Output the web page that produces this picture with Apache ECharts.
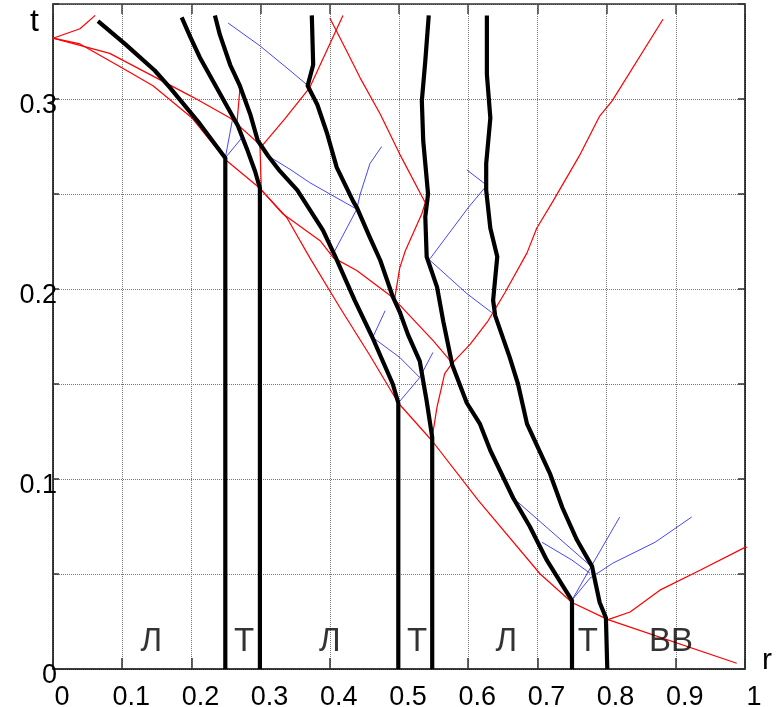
<!DOCTYPE html>
<html><head><meta charset="utf-8">
<script src="https://cdn.jsdelivr.net/npm/echarts@6/dist/echarts.min.js"></script>
<style>html,body{margin:0;padding:0;background:#fff}#c{width:783px;height:707px}</style>
</head><body><div id="c"></div>
<script>
// ---- particle paths (thick black) : [r, t]
const pathA = [[0.065,0.341],[0.104,0.329],[0.147,0.315],[0.169,0.306],[0.212,0.287],[0.249,0.269],[0.249,0]];
const pathB = [[0.186,0.343],[0.198,0.333],[0.212,0.322],[0.241,0.303],[0.267,0.286],[0.280,0.274],[0.292,0.262],[0.299,0.253],[0.299,0]];
const pathC = [[0.234,0.344],[0.241,0.334],[0.256,0.318],[0.270,0.307],[0.285,0.292],[0.296,0.278],[0.311,0.270],[0.328,0.262],[0.353,0.252],[0.390,0.231],[0.408,0.217],[0.436,0.194],[0.461,0.175],[0.491,0.150],[0.499,0.140],[0.499,0]];
const pathD = [[0.374,0.344],[0.376,0.318],[0.368,0.307],[0.382,0.297],[0.396,0.282],[0.410,0.264],[0.434,0.246],[0.439,0.243],[0.458,0.227],[0.473,0.215],[0.491,0.196],[0.501,0.188],[0.513,0.176],[0.530,0.162],[0.540,0.141],[0.548,0.122],[0.548,0]];
const pathE = [[0.543,0.344],[0.538,0.320],[0.533,0.299],[0.535,0.278],[0.542,0.250],[0.538,0.238],[0.540,0.217],[0.555,0.201],[0.564,0.183],[0.577,0.160],[0.598,0.140],[0.617,0.129],[0.632,0.115],[0.665,0.090],[0.689,0.075],[0.714,0.057],[0.750,0.036],[0.750,0]];
const pathF = [[0.627,0.344],[0.627,0.313],[0.632,0.290],[0.626,0.266],[0.626,0.252],[0.632,0.232],[0.642,0.217],[0.636,0.194],[0.639,0.186],[0.660,0.164],[0.672,0.150],[0.685,0.129],[0.704,0.114],[0.718,0.103],[0.736,0.085],[0.757,0.068],[0.779,0.054],[0.783,0.047],[0.790,0.035],[0.799,0.027],[0.801,0]];

// ---- shock lines (thin red)
const shock1 = [[0,0.332],[0.039,0.337],[0.061,0.344]];
const shock2 = [[0,0.332],[0.082,0.324],[0.150,0.311],[0.202,0.301],[0.256,0.290],[0.299,0.276],[0.301,0.253]];
const shock2b = [[0.266,0.288],[0.270,0.305]];
const shock3 = [[0,0.332],[0.039,0.329],[0.097,0.317],[0.1445,0.307],[0.201,0.290],[0.251,0.2675],[0.299,0.253],[0.338,0.2375],[0.371,0.2165],[0.415,0.190],[0.458,0.165],[0.499,0.140],[0.548,0.120],[0.614,0.089],[0.704,0.050],[0.750,0.035],[0.802,0.026],[0.988,0.003]];
const shock4 = [[0.299,0.274],[0.335,0.2895],[0.371,0.306],[0.419,0.344]];
const shock5 = [[0.400,0.3426],[0.422,0.327],[0.444,0.311],[0.473,0.292],[0.501,0.271],[0.538,0.2454],[0.533,0.2396],[0.509,0.220],[0.501,0.211],[0.494,0.1955]];
const shock6 = [[0.299,0.253],[0.332,0.2396],[0.386,0.2254],[0.405,0.2165],[0.439,0.2097],[0.491,0.1955],[0.549,0.173],[0.577,0.161]];
const shock7 = [[0.548,0.122],[0.555,0.138],[0.566,0.1555],[0.577,0.161]];
const shock8 = [[0.577,0.161],[0.603,0.171],[0.629,0.1834],[0.653,0.198],[0.685,0.219],[0.699,0.232],[0.723,0.2465],[0.762,0.271],[0.790,0.291],[0.808,0.299],[0.8815,0.342]];
const shock9 = [[0.802,0.026],[0.834,0.030],[0.877,0.0415],[0.935,0.052],[1.0,0.064],[1.04,0.065]];

// ---- rarefaction characteristics (thin blue)
const wave1 = [[0.253,0.340],[0.299,0.328],[0.3425,0.315],[0.3685,0.307]];
const wave2 = [[0.249,0.269],[0.259,0.2885]];
const wave3 = [[0.249,0.269],[0.273,0.2796]];
const wave4 = [[0.311,0.270],[0.3425,0.263],[0.371,0.256],[0.400,0.250],[0.439,0.242]];
const wave5 = [[0.439,0.242],[0.444,0.250],[0.458,0.266],[0.475,0.275]];
const wave6 = [[0.439,0.242],[0.405,0.2186]];
const wave7 = [[0.462,0.1745],[0.480,0.1886]];
const wave8 = [[0.462,0.1745],[0.501,0.164],[0.530,0.1534]];
const wave9 = [[0.530,0.1534],[0.549,0.1666]];
const wave10 = [[0.530,0.1534],[0.499,0.140]];
const wave11 = [[0.598,0.2627],[0.624,0.2554]];
const wave12 = [[0.624,0.2533],[0.600,0.2428],[0.545,0.216]];
const wave13 = [[0.545,0.215],[0.598,0.1976],[0.634,0.1876]];
const wave14 = [[0.665,0.090],[0.779,0.0536]];
const wave15 = [[0.7066,0.0667],[0.750,0.0573],[0.776,0.0504]];
const wave16 = [[0.750,0.0363],[0.783,0.0573],[0.819,0.080]];
const wave17 = [[0.750,0.0363],[0.776,0.0478],[0.809,0.0557],[0.870,0.0667],[0.923,0.080]];

// ---- zone labels
const zoneNames = ['Л','Т','Л','Т','Л','Т','ВВ'];
const zoneR = [0.142,0.276,0.400,0.526,0.655,0.773,0.893];
const zoneT = [0.0142,0.0142,0.0142,0.0142,0.0142,0.0142,0.0142];

// ---- axes
const xMin = 0, xMax = 1, xStep = 0.1;
const yMin = 0, yMax = 0.35, yStep = 0.05;
const yLabelValues = [0, 0.1, 0.2, 0.3];

const FONT = 'Liberation Sans';
const shocks = [shock1, shock2, shock2b, shock3, shock4, shock5, shock6, shock7, shock8, shock9];
const waves = [wave1, wave2, wave3, wave4, wave5, wave6, wave7, wave8, wave9, wave10, wave11, wave12, wave13, wave14, wave15, wave16, wave17];
const paths = [pathA, pathB, pathC, pathD, pathE, pathF];

const series = [];
waves.forEach(d => series.push({type:'line', data:d, showSymbol:false, silent:true, animation:false,
  lineStyle:{color:'#4646ff', width:1}, z:3}));
shocks.forEach(d => series.push({type:'line', data:d, showSymbol:false, silent:true, animation:false, clip:false,
  lineStyle:{color:'#ff0000', width:1.2}, z:4}));
paths.forEach(d => series.push({type:'line', data:d, showSymbol:false, silent:true, animation:false,
  lineStyle:{color:'#000', width:4.2, join:'round', cap:'butt'}, z:5}));
series.push({type:'scatter', symbolSize:0, silent:true, animation:false, z:6,
  data: zoneNames.map((n,i)=>({value:[zoneR[i], zoneT[i]], name:n})),
  label:{show:true, position:'inside', formatter:p=>p.name, color:'#000', fontFamily:FONT, fontSize:33}});

const chart = echarts.init(document.getElementById('c'), null, {renderer:'canvas'});
const fmt = v => String(+(+v).toFixed(2));
chart.setOption({
  animation:false,
  backgroundColor:'#fff',
  grid:{left:53, right:38, top:4, bottom:38, containLabel:false, outerBoundsMode:'none'},
  xAxis:[{
    type:'value', min:xMin, max:xMax, interval:xStep, position:'bottom',
    axisLine:{show:true, onZero:false, lineStyle:{color:'#000', width:1.5}},
    axisTick:{show:true, inside:true, length:11, lineStyle:{color:'#333', width:1.5}},
    axisLabel:{show:true, margin:15, formatter:fmt, color:'#000', fontFamily:FONT, fontSize:27, padding:[0,0,0,18]},
    splitLine:{show:true, lineStyle:{color:'#777', width:1, type:'dotted'}}
  },{
    type:'value', min:xMin, max:xMax, interval:xStep, position:'top',
    axisLine:{show:true, onZero:false, lineStyle:{color:'#333', width:1.5}},
    axisTick:{show:true, inside:true, length:10, lineStyle:{color:'#444', width:1.5}},
    axisLabel:{show:false}, splitLine:{show:false}
  }],
  yAxis:[{
    type:'value', min:yMin, max:yMax, interval:yStep, position:'left',
    axisLine:{show:true, onZero:false, lineStyle:{color:'#000', width:1.5}},
    axisTick:{show:true, inside:true, length:6, lineStyle:{color:'#333', width:1.5}},
    axisLabel:{show:true, margin:-4, showMinLabel:true, hideOverlap:false,
      formatter: v => yLabelValues.some(y => Math.abs(y - v) < 1e-9) ? '{v|' + fmt(v) + '}' : '',
      rich:{v:{color:'#000', fontFamily:FONT, fontSize:27, padding:[13,0,0,0]}}},
    splitLine:{show:true, lineStyle:{color:'#777', width:1, type:'dotted'}}
  },{
    type:'value', min:yMin, max:yMax, interval:yStep, position:'right',
    axisLine:{show:true, onZero:false, lineStyle:{color:'#000', width:1.5}},
    axisTick:{show:true, inside:true, length:7, lineStyle:{color:'#333', width:1.5}},
    axisLabel:{show:false}, splitLine:{show:false}
  }],
  graphic:[
    {type:'text', left:30, top:6, style:{text:'t', fontFamily:FONT, fontSize:32, fill:'#000'}},
    {type:'text', left:762, top:646, style:{text:'r', fontFamily:FONT, fontSize:30, fill:'#000'}}
  ],
  series: series
});
</script></body></html>
